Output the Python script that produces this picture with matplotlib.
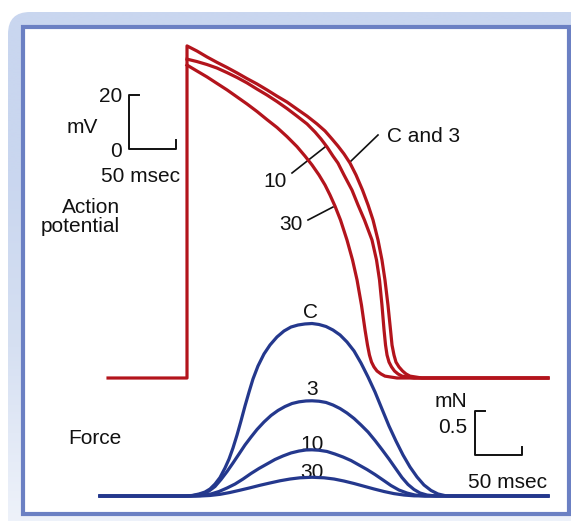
import matplotlib.pyplot as plt
import numpy as np
from matplotlib.patches import FancyBboxPatch, Rectangle
from matplotlib.colors import LinearSegmentedColormap

plt.rcParams['font.family'] = ['Liberation Sans', 'DejaVu Sans']

# Action potentials (time in ms from upstroke, membrane potential in mV)
rest_mv = -85
t_start = -84

ap_c3_t = [0, 10.6, 21.3, 31.9, 42.6, 53.2, 63.8, 74.5, 85.1, 95.7, 106.4, 117.0, 127.7,
           138.3, 146.8, 154.3, 160.6, 167.0, 173.4, 179.8, 186.7, 192.6, 197.9, 203.2,
           207.4, 210.6, 213.8, 216.5, 218.1, 220.2, 222.3, 225.5, 229.3, 233.0, 237.2,
           242.6, 250.0, 384]
ap_c3_v = [38.0, 36.1, 33.9, 31.9, 30.0, 28.0, 25.9, 23.9, 21.7, 19.4, 17.2, 14.6, 12.0,
           9.1, 6.5, 3.5, 0.9, -2.0, -5.4, -9.8, -15.4, -20.9, -26.5, -33.9,
           -41.3, -48.7, -58.0, -67.2, -72.8, -76.5, -79.1, -80.9, -82.4, -83.5, -84.3,
           -84.6, -85, -85]

ap_10_t = [0, 10.6, 21.3, 31.9, 42.6, 53.2, 63.8, 74.5, 85.1, 95.7, 106.4, 117.0, 127.7,
           136.2, 142.6, 148.9, 155.3, 160.6, 167.0, 175.5, 181.9, 188.8, 196.8, 201.6,
           204.8, 207.4, 209.6, 211.2, 212.8, 214.9, 217.6, 220.7, 224.5, 228.7, 234.0,
           241.5, 384]
ap_10_v = [33.1, 32.2, 31.1, 29.8, 28.1, 26.3, 24.3, 22.0, 19.8, 17.4, 14.8, 12.0, 9.1,
           6.1, 3.5, 0.6, -2.8, -5.4, -9.8, -15.4, -20.9, -26.5, -33.9, -41.3,
           -48.7, -58.0, -67.2, -72.8, -76.5, -79.1, -80.9, -82.4, -83.5, -84.3, -84.6,
           -85, -85]

ap_30_t = [0, 10.6, 21.3, 31.9, 42.6, 53.2, 63.8, 74.5, 85.1, 95.7, 106.4, 117.0, 125.5,
           133.0, 140.4, 146.8, 152.1, 157.4, 163.3, 170.2, 176.1, 180.9, 185.6, 189.4,
           192.0, 194.1, 196.3, 198.9, 202.1, 206.4, 210.6, 216.0, 223.4, 384]
ap_30_v = [30.9, 28.7, 26.5, 24.1, 21.7, 19.1, 16.5, 13.7, 10.7, 7.8, 4.4, 0.7, -2.8,
           -6.1, -9.8, -13.5, -17.2, -21.3, -26.5, -33.9, -41.3, -48.7, -58.0, -67.2,
           -72.8, -76.5, -79.1, -80.9, -82.4, -83.5, -84.3, -84.6, -85, -85]

# Twitch force (mN) for control (C) and the 3, 10, 30 traces
f_c_t = [-92.6, -2.1, 5.3, 12.8, 19.1, 24.5, 29.8, 35.1, 40.4, 44.7, 48.9, 53.2, 57.4,
         61.7, 66.0, 70.2, 75.5, 81.9, 88.3, 95.7, 103.2, 110.6, 118.1, 125.5, 133.0,
         140.4, 147.9, 155.3, 162.8, 170.2, 177.7, 185.1, 192.6, 200.0, 207.4, 214.9,
         222.3, 229.8, 237.2, 244.7, 252.1, 259.6, 267.0, 275.5, 285.1, 384]
f_c = [0, 0, 0.006, 0.023, 0.045, 0.080, 0.136, 0.210, 0.318, 0.420, 0.545, 0.693, 0.852,
       1.023, 1.182, 1.330, 1.477, 1.614, 1.716, 1.807, 1.875, 1.920, 1.943, 1.955, 1.960,
       1.949, 1.926, 1.886, 1.830, 1.750, 1.648, 1.511, 1.352, 1.182, 0.989, 0.795,
       0.625, 0.466, 0.330, 0.216, 0.125, 0.063, 0.023, 0.002, 0, 0]

f_3_t = [-92.6, 3.2, 10.6, 17.0, 23.4, 29.8, 36.2, 42.6, 48.9, 55.3, 61.7, 68.1, 74.5,
         81.9, 89.4, 96.8, 104.3, 111.7, 119.1, 126.6, 133.0, 140.4, 147.9, 155.3, 162.8,
         170.2, 177.7, 185.1, 192.6, 200.0, 207.4, 214.9, 222.3, 228.7, 235.1, 241.5,
         247.9, 255.3, 264.9, 384]
f_3 = [0, 0, 0.011, 0.028, 0.057, 0.108, 0.188, 0.278, 0.375, 0.477, 0.580, 0.670, 0.756,
       0.841, 0.915, 0.972, 1.017, 1.051, 1.070, 1.080, 1.082, 1.077, 1.063, 1.034, 0.994,
       0.943, 0.881, 0.807, 0.727, 0.631, 0.528, 0.420, 0.307, 0.210, 0.131, 0.074,
       0.034, 0.011, 0, 0]

f_10_t = [-92.6, 8.5, 17.0, 25.5, 34.0, 42.6, 51.1, 59.6, 68.1, 76.6, 85.1, 93.6, 102.1,
          110.6, 119.1, 126.6, 133.0, 140.4, 148.9, 157.4, 166.0, 174.5, 183.0, 191.5,
          200.0, 208.5, 217.0, 225.5, 234.0, 242.6, 253.2, 384]
f_10 = [0, 0, 0.008, 0.023, 0.051, 0.091, 0.136, 0.193, 0.256, 0.313, 0.364, 0.415, 0.455,
        0.489, 0.511, 0.523, 0.525, 0.520, 0.506, 0.477, 0.443, 0.403, 0.352, 0.301,
        0.244, 0.182, 0.119, 0.068, 0.034, 0.011, 0, 0]

f_30_t = [-92.6, 13.8, 24.5, 35.1, 45.7, 56.4, 67.0, 77.7, 88.3, 98.9, 109.6, 120.2, 133.0,
          145.7, 156.4, 167.0, 177.7, 188.3, 198.9, 209.6, 220.2, 230.9, 241.5, 256.4, 384]
f_30 = [0, 0, 0.006, 0.019, 0.040, 0.066, 0.093, 0.122, 0.148, 0.173, 0.193, 0.207, 0.213,
        0.207, 0.193, 0.170, 0.142, 0.111, 0.080, 0.051, 0.027, 0.011, 0.002, 0, 0]

red = '#b3141c'
blue = '#24388d'
ink = '#111111'

fig = plt.figure(figsize=(5.71, 5.21), dpi=100)

# panel frame, drawn in pixel units
deco = fig.add_axes([0, 0, 1, 1])
deco.set_xlim(0, 571)
deco.set_ylim(521, 0)
deco.axis('off')
band = FancyBboxPatch((8, 12), 590, 540, boxstyle='round,pad=0,rounding_size=22',
                      facecolor='none', edgecolor='none')
deco.add_patch(band)
shade = LinearSegmentedColormap.from_list('band', ['#c9d6ef', '#c9d6ef', '#d6e0f2', '#eef2fa'])
grad = deco.imshow(np.linspace(0, 1, 256).reshape(-1, 1), extent=[0, 571, 521, 0],
                   cmap=shade, aspect='auto', interpolation='bilinear')
grad.set_clip_path(band)
deco.add_patch(Rectangle((23, 27), 546, 487, facecolor='white', edgecolor='#6b80c3', lw=3.0))
deco.set_xlim(0, 571)
deco.set_ylim(521, 0)

# action potential axes: 0.94 px per ms, 2.7 px per mV
ax_ap = fig.add_axes([0, 0, 1, 1])
ax_ap.patch.set_alpha(0)
ax_ap.axis('off')
ax_ap.set_xlim(-198.94, 408.5)
ax_ap.set_ylim(-137.96, 55.0)

lw = 2.3
ax_ap.plot([t_start, 0, 0] + ap_c3_t, [rest_mv, rest_mv, ap_c3_v[0]] + ap_c3_v,
           color=red, lw=lw, solid_joinstyle='round')
ax_ap.plot(ap_10_t, ap_10_v, color=red, lw=lw, solid_joinstyle='round')
ax_ap.plot(ap_30_t, ap_30_v, color=red, lw=lw, solid_joinstyle='round')

# 20 mV / 50 msec scale bar
sb_t, sb_v = -62, 0
ax_ap.plot([sb_t + 10.6, sb_t, sb_t, sb_t + 50, sb_t + 50],
           [sb_v + 20, sb_v + 20, sb_v, sb_v, sb_v + 3.3], color=ink, lw=1.4)

# force axes: 88 px per mN
ax_f = fig.add_axes([0, 0, 1, 1])
ax_f.patch.set_alpha(0)
ax_f.axis('off')
ax_f.set_xlim(-198.94, 408.5)
ax_f.set_ylim(-0.284, 5.636)

for tt, ff in [(f_30_t, f_30), (f_10_t, f_10), (f_3_t, f_3), (f_c_t, f_c)]:
    ax_f.plot(tt, ff, color=blue, lw=lw, solid_joinstyle='round')

# 0.5 mN / 50 msec scale bar
sb_t, sb_f = 306.4, 0.466
ax_f.plot([sb_t + 10.6, sb_t, sb_t, sb_t + 50, sb_t + 50],
          [sb_f + 0.5, sb_f + 0.5, sb_f, sb_f, sb_f + 0.09], color=ink, lw=1.4)

# labels (pixel positions)
fs = 15
def label(x, y, s, ha='center'):
    deco.text(x, y, s, fontsize=fs, ha=ha, va='baseline', color=ink)

label(122, 102, '20', 'right')
label(82, 133, 'mV')
label(122, 157, '0', 'right')
label(180, 182, '50 msec', 'right')
label(120, 213, 'Action', 'right')
label(120, 232, 'potential', 'right')
label(387, 142, 'C and 3', 'left')
label(275, 187, '10')
label(291, 230, '30')
label(68, 444, 'Force', 'left')
label(311, 318, 'C')
label(312, 395, '3')
label(312, 450, '10')
label(312, 478, '30')
label(467, 407, 'mN', 'right')
label(467, 433, '0.5', 'right')
label(547, 488, '50 msec', 'right')

for (x0, y0), (x1, y1) in [((350, 162), (378, 135)), ((292, 173), (325, 147)),
                           ((308, 220), (333, 207))]:
    deco.plot([x0, x1], [y0, y1], color=ink, lw=1.2)

fig.savefig('out.png', dpi=100)
